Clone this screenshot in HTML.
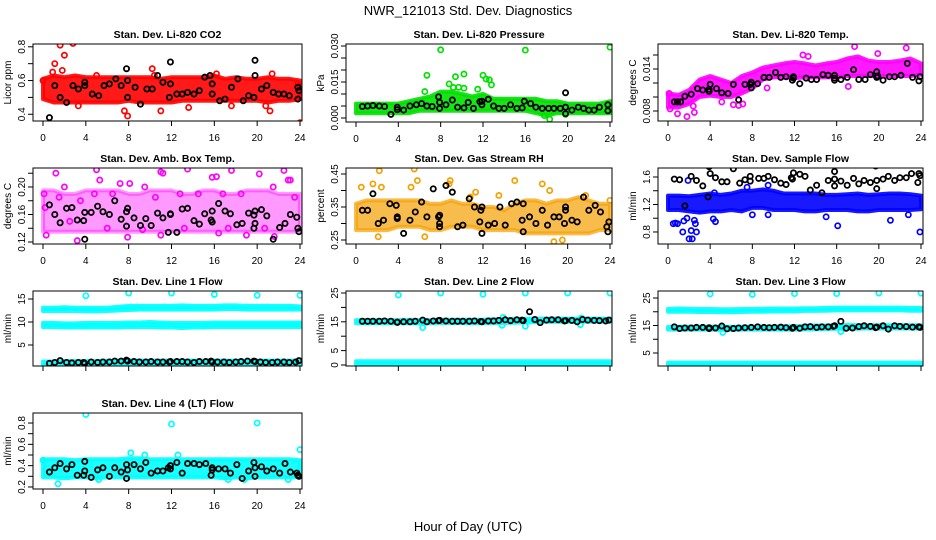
<!DOCTYPE html>
<html><head><meta charset="utf-8"><style>
body{margin:0;background:#fff}
svg{display:block;font-family:"Liberation Sans",Arial,sans-serif}
</style></head><body>
<svg id="chart" width="936" height="540" viewBox="0 0 936 540" xmlns="http://www.w3.org/2000/svg">
<rect width="936" height="540" fill="#fff"/>
<text x="468" y="15" text-anchor="middle" font-size="13">NWR_121013 Std. Dev. Diagnostics</text>
<text x="468" y="531" text-anchor="middle" font-size="13">Hour of Day (UTC)</text>
</svg>
<script>
const hourTicks=[0,4,8,12,16,20,24];
const bandHours=[0,1,2,3,4,5,6,7,8,9,10,11,12,13,14,15,16,17,18,19,20,21,22,23,24];

const co2Lo=[0.49,0.47,0.47,0.47,0.47,0.47,0.47,0.47,0.48,0.47,0.47,0.47,0.47,0.48,0.48,0.48,0.48,0.48,0.48,0.48,0.48,0.47,0.48,0.48,0.49];
const co2Hi=[0.61,0.63,0.62,0.63,0.62,0.62,0.62,0.62,0.62,0.62,0.62,0.61,0.62,0.62,0.62,0.62,0.63,0.61,0.62,0.61,0.61,0.62,0.61,0.61,0.60];
const co2Pts=[[1.6,0.81],[2.8,0.82],[2.0,0.75],[1.1,0.7],[0.9,0.65],[1.8,0.66],[10.2,0.67],[15.9,0.34],[24,0.35],[7.6,0.42],[7.9,0.39],[11,0.42],[13.6,0.44],[3.3,0.45],[21.2,0.42],[21.4,0.64],[17.6,0.45],[10.4,0.63],[5,0.63],[20.8,0.45],[16.2,0.64],[23.8,0.58],[0,0.6],[24,0.5]];
const co2Means=[[0.6,0.38],[1.1,0.57],[1.6,0.5],[2.2,0.47],[2.8,0.57],[3.3,0.55],[3.9,0.59],[3.9,0.57],[4.6,0.52],[5.2,0.51],[5.7,0.57],[6.2,0.58],[6.8,0.61],[7.3,0.57],[7.8,0.67],[7.9,0.6],[7.9,0.5],[8.6,0.56],[9.1,0.46],[9.7,0.55],[10.2,0.55],[10.7,0.63],[11.2,0.59],[11.8,0.5],[11.9,0.58],[11.9,0.71],[12.5,0.52],[13,0.52],[13.5,0.53],[14.1,0.52],[14.6,0.54],[15.1,0.62],[15.6,0.63],[15.8,0.58],[15.8,0.52],[16.5,0.48],[17,0.49],[17.6,0.56],[18.2,0.61],[18.7,0.48],[19.2,0.51],[19.7,0.5],[19.8,0.63],[19.8,0.72],[20.4,0.55],[20.9,0.57],[21.5,0.53],[22,0.52],[22.5,0.52],[23,0.51],[23.8,0.56],[23.8,0.49],[23.9,0.54]];

const presLo=[0.002,0.002,0.002,0.002,0.002,0.002,0.003,0.003,0.003,0.003,0.003,0.003,0.003,0.003,0.003,0.003,0.003,0.002,0.001,0.002,0.002,0.002,0.002,0.002,0.002];
const presHi=[0.006,0.006,0.006,0.006,0.006,0.007,0.008,0.009,0.011,0.011,0.010,0.009,0.010,0.008,0.008,0.008,0.008,0.008,0.007,0.007,0.006,0.006,0.006,0.006,0.007];
const presPts=[[8.0,0.0284],[16,0.0283],[24,0.0295],[6.7,0.0178],[9.4,0.0172],[10.2,0.0183],[12,0.0178],[12.3,0.0162],[12.6,0.0159],[12.8,0.0138],[8.8,0.0142],[9.2,0.0127],[9.7,0.0128],[10.2,0.0124],[18.3,-0.0005],[17.8,0.001],[19.8,0.0015],[6.5,0.011],[11.5,0.012]];
const presMeans=[[0.6,0.0048],[1.1,0.005],[1.6,0.0052],[2.2,0.005],[2.7,0.0048],[3.3,0.0015],[3.9,0.0045],[3.9,0.0035],[4.5,0.0033],[5.1,0.005],[5.7,0.0055],[6.2,0.006],[6.7,0.005],[7.2,0.0048],[7.8,0.0088],[7.9,0.0065],[7.9,0.004],[8.5,0.0055],[9.1,0.0075],[9.6,0.0045],[10.2,0.0042],[10.6,0.0065],[11.1,0.004],[11.7,0.0068],[11.9,0.0055],[11.9,0.007],[12.5,0.0078],[13,0.005],[13.5,0.004],[14,0.004],[14.6,0.0055],[15.2,0.004],[15.7,0.0042],[15.9,0.007],[16.5,0.006],[17,0.0045],[17.6,0.004],[18.2,0.004],[18.7,0.004],[19.3,0.004],[19.8,0.0045],[19.8,0.0018],[19.8,0.0105],[20.4,0.0033],[21,0.0045],[21.5,0.004],[22,0.0033],[22.5,0.0033],[23,0.0045],[23.8,0.0055],[23.8,0.003]];

const tempLo=[0.0085,0.0085,0.0090,0.0100,0.0102,0.0100,0.0100,0.0105,0.0112,0.0125,0.0128,0.0128,0.0127,0.0128,0.0128,0.0128,0.0128,0.0130,0.0130,0.0130,0.0130,0.0130,0.0130,0.0130,0.0132];
const tempHi=[0.0105,0.0103,0.0110,0.0125,0.0130,0.0125,0.0120,0.0130,0.0135,0.0142,0.0145,0.0148,0.0150,0.0148,0.0145,0.0148,0.0150,0.0155,0.0158,0.0152,0.0150,0.0150,0.0152,0.0155,0.0148];
const tempPts=[[0.1,0.0105],[0.2,0.0083],[0.9,0.0076],[1.8,0.0072],[2.5,0.0078],[2.4,0.0087],[6.2,0.0089],[6.7,0.0088],[5.1,0.0093],[7.1,0.0090],[9.4,0.0113],[17.1,0.0115],[22.6,0.0170],[17.7,0.0172],[19.9,0.0162],[12.8,0.016],[13.3,0.0158]];
const tempMeans=[[0.6,0.0093],[0.9,0.0093],[1.2,0.0093],[1.6,0.0101],[2.2,0.0104],[2.8,0.0112],[3.3,0.011],[3.9,0.0111],[3.9,0.0108],[4,0.0118],[4.6,0.0112],[5.1,0.0106],[5.7,0.0105],[6.2,0.0118],[6.7,0.0096],[7.3,0.0118],[7.8,0.0118],[7.9,0.0113],[7.9,0.0121],[8.5,0.0119],[9.1,0.0128],[9.6,0.0128],[10.2,0.0135],[10.7,0.0128],[11.2,0.0129],[11.8,0.0124],[11.9,0.0129],[11.9,0.0127],[12.5,0.0119],[13.1,0.0127],[13.6,0.0125],[14.1,0.0125],[14.7,0.0132],[15.2,0.0131],[15.8,0.0127],[15.8,0.0131],[15.8,0.0124],[16.4,0.0125],[17.0,0.0128],[17.6,0.0139],[18.1,0.0125],[18.7,0.0125],[19.2,0.0132],[19.8,0.0128],[19.8,0.0136],[19.9,0.013],[20.4,0.0124],[21,0.0129],[21.5,0.0129],[22.1,0.0131],[22.7,0.0148],[23.2,0.0128],[23.8,0.0123],[23.9,0.0129]];

const ambLo=[0.135,0.135,0.135,0.135,0.135,0.135,0.135,0.135,0.135,0.135,0.135,0.135,0.135,0.135,0.135,0.135,0.135,0.135,0.135,0.135,0.135,0.135,0.135,0.135,0.135];
const ambHi=[0.195,0.195,0.19,0.19,0.195,0.195,0.195,0.195,0.19,0.19,0.195,0.195,0.195,0.19,0.19,0.195,0.195,0.19,0.19,0.195,0.195,0.195,0.19,0.19,0.19];
const ambPts=[[0.1,0.19],[1.2,0.22],[2,0.2],[3.2,0.122],[5,0.225],[5.3,0.21],[7.2,0.205],[8.1,0.205],[11.0,0.222],[11.2,0.22],[13.5,0.226],[15.8,0.214],[16.2,0.215],[17.6,0.224],[20.2,0.219],[22.5,0.224],[22.9,0.21],[23.1,0.21],[19.0,0.13],[21.6,0.128],[16.4,0.133],[7.9,0.127],[0.3,0.13],[11,0.13],[0.2,0.17],[1.5,0.185],[2.5,0.15],[3.5,0.18],[4.8,0.19],[6.5,0.19],[9.5,0.2],[10.5,0.185],[12.8,0.19],[14.5,0.19],[16.8,0.19],[18.5,0.19],[21.5,0.2],[23.5,0.185],[6,0.14],[9.3,0.138],[13.2,0.14],[17.3,0.14],[20.7,0.14]];
const ambMeans=[[0.6,0.174],[1.1,0.16],[1.6,0.148],[2.2,0.169],[2.7,0.17],[3.2,0.152],[3.8,0.151],[3.9,0.124],[3.9,0.163],[4.5,0.163],[5.1,0.172],[5.6,0.164],[6.2,0.16],[6.7,0.18],[7.3,0.153],[7.8,0.143],[7.8,0.164],[7.9,0.169],[8.5,0.155],[9.1,0.144],[9.6,0.154],[10.1,0.144],[10.7,0.162],[11.2,0.155],[11.7,0.134],[11.9,0.16],[11.9,0.161],[12.5,0.134],[13.0,0.168],[13.5,0.169],[14.1,0.151],[14.6,0.146],[15.1,0.161],[15.7,0.152],[15.8,0.165],[15.8,0.149],[16.4,0.176],[17.0,0.165],[17.5,0.161],[18.1,0.145],[18.6,0.147],[19.2,0.162],[19.7,0.14],[19.7,0.159],[19.8,0.147],[19.8,0.165],[20.4,0.167],[20.9,0.158],[21.5,0.124],[22.1,0.141],[22.6,0.147],[23.1,0.16],[23.7,0.156],[23.8,0.14],[23.9,0.135]];

const rhLo=[0.28,0.28,0.28,0.28,0.29,0.29,0.29,0.28,0.28,0.29,0.29,0.29,0.28,0.28,0.28,0.28,0.27,0.27,0.27,0.27,0.27,0.27,0.27,0.28,0.28];
const rhHi=[0.36,0.37,0.37,0.37,0.37,0.37,0.37,0.36,0.36,0.37,0.36,0.36,0.35,0.35,0.34,0.36,0.37,0.37,0.36,0.37,0.37,0.38,0.37,0.36,0.36];
const rhPts=[[2.2,0.46],[5.5,0.465],[5.8,0.43],[5.2,0.41],[0.5,0.41],[1.6,0.42],[2.4,0.41],[8.8,0.42],[8.9,0.43],[15,0.43],[17.6,0.42],[18.3,0.40],[2.1,0.26],[6.5,0.26],[18.7,0.245],[19.5,0.25],[13.5,0.385],[10.8,0.38],[21.7,0.385],[11.3,0.395],[24,0.37]];
const rhMeans=[[0.6,0.34],[1.1,0.34],[1.6,0.39],[2.1,0.3],[2.6,0.31],[3.2,0.36],[3.8,0.355],[3.9,0.32],[3.9,0.315],[4.5,0.27],[5.1,0.31],[5.6,0.335],[6.2,0.365],[6.7,0.32],[7.3,0.405],[7.8,0.32],[7.9,0.325],[7.9,0.29],[7.9,0.3],[8.5,0.415],[9.1,0.395],[9.6,0.29],[10.1,0.295],[10.7,0.375],[11.2,0.35],[11.7,0.305],[11.8,0.34],[11.9,0.27],[11.9,0.35],[12.5,0.295],[13.1,0.3],[13.6,0.35],[14.1,0.295],[14.7,0.36],[15.2,0.365],[15.7,0.31],[15.8,0.275],[15.8,0.36],[16.4,0.32],[17.0,0.3],[17.6,0.34],[18.1,0.295],[18.7,0.32],[19.2,0.32],[19.7,0.3],[19.8,0.34],[19.8,0.35],[20.4,0.31],[20.9,0.305],[21.5,0.38],[22.0,0.34],[22.6,0.355],[23.1,0.335],[23.7,0.29],[23.8,0.275],[23.9,0.305]];

const flowLo=[1.12,1.12,1.1,1.08,1.1,1.1,1.12,1.1,1.15,1.15,1.12,1.12,1.12,1.1,1.1,1.12,1.12,1.12,1.1,1.1,1.12,1.12,1.12,1.12,1.13];
const flowHi=[1.33,1.33,1.32,1.34,1.36,1.34,1.36,1.4,1.4,1.42,1.4,1.36,1.36,1.36,1.36,1.34,1.34,1.35,1.36,1.34,1.35,1.36,1.36,1.35,1.33];
const flowPts=[[0.5,0.92],[0.7,0.93],[0.9,0.92],[1.4,0.8],[1.5,0.96],[1.8,1.0],[2.0,0.7],[2.3,0.7],[2.2,0.82],[2.5,0.97],[2.6,0.92],[2.7,0.8],[1.9,1.55],[4.3,0.99],[4.5,0.95],[9.5,1.05],[8.0,1.05],[16.1,0.89],[21.1,0.97],[22.8,1.05],[23.9,0.8],[15,1.02],[4.4,1.37],[7.5,1.45],[9.5,1.48]];
const flowMeans=[[0.6,1.57],[1.1,1.56],[1.6,1.18],[2.2,1.61],[2.7,1.55],[3.3,1.47],[3.8,1.31],[3.9,1.75],[4.0,1.65],[4.5,1.59],[5.1,1.53],[5.6,1.53],[6.2,1.72],[6.8,1.51],[7.3,1.56],[7.8,1.61],[7.8,1.54],[8.6,1.58],[9.1,1.58],[9.5,1.61],[10.1,1.56],[10.7,1.51],[11.2,1.49],[11.7,1.59],[11.8,1.57],[11.9,1.66],[12.5,1.64],[13.0,1.61],[13.5,1.41],[14.1,1.48],[14.6,1.37],[15.2,1.55],[15.8,1.68],[15.8,1.57],[15.8,1.47],[16.4,1.54],[17.0,1.48],[17.6,1.58],[18.1,1.5],[18.6,1.55],[19.2,1.52],[19.7,1.76],[19.8,1.55],[19.8,1.43],[20.4,1.57],[20.9,1.61],[21.5,1.55],[22,1.59],[22.6,1.59],[23.1,1.65],[23.7,1.52],[23.8,1.65],[23.9,1.62]];

const line1UpLo=[12.4,12.4,12.4,12.4,12.3,12.3,12.4,12.5,12.6,12.7,12.7,12.7,12.7,12.7,12.7,12.7,12.7,12.8,12.8,12.7,12.7,12.7,12.7,12.7,12.7];
const line1UpHi=[13.1,13.1,13.2,13.1,13.1,13.1,13.1,13.3,13.5,13.5,13.5,13.5,13.5,13.6,13.5,13.5,13.5,13.6,13.6,13.5,13.5,13.5,13.5,13.5,13.4];
const line1MidLo=[8.9,8.9,8.8,8.8,8.8,8.8,8.8,8.8,8.9,8.9,8.9,8.8,8.8,8.7,8.8,8.8,8.9,8.9,8.9,8.9,8.9,8.9,8.9,8.9,8.9];
const line1MidHi=[9.8,9.8,9.7,9.7,9.8,9.8,9.8,9.8,9.9,9.9,10.0,9.9,9.8,9.8,9.8,9.8,9.9,9.9,9.9,9.9,9.9,9.9,9.9,9.9,9.9];
const line1LowLo=[0.7,0.7,0.7,0.7,0.7,0.7,0.7,0.7,0.7,0.7,0.7,0.7,0.7,0.7,0.7,0.7,0.7,0.7,0.7,0.7,0.7,0.7,0.7,0.7,0.7];
const line1LowHi=[1.4,1.4,1.5,1.5,1.5,1.5,1.6,1.6,1.7,1.6,1.6,1.6,1.6,1.6,1.6,1.6,1.6,1.6,1.6,1.6,1.6,1.6,1.6,1.6,1.6];
const line1Pts=[[4,15.7],[8,16.3],[12,16.3],[16,16],[20,15.8],[24,15.8]];
const line1Means=[[0.6,1.0],[1.1,1.2],[1.6,1.6],[2.2,1.2],[2.7,1.1],[3.3,1.2],[3.8,1.2],[3.9,1.0],[4.5,1.3],[5.1,1.2],[5.6,1.3],[6.2,1.3],[6.7,1.5],[7.3,1.5],[7.8,1.7],[7.9,1.5],[8.5,1.4],[9.0,1.3],[9.6,1.3],[10.1,1.4],[10.7,1.3],[11.2,1.3],[11.8,1.3],[11.9,1.4],[12.5,1.4],[13,1.4],[13.5,1.3],[14.1,1.2],[14.6,1.4],[15.2,1.4],[15.7,1.5],[15.8,1.3],[16.3,1.3],[16.9,1.3],[17.4,1.2],[18,1.3],[18.5,1.4],[19.1,1.5],[19.7,1.5],[19.8,1.4],[20.3,1.3],[20.8,1.2],[21.4,1.2],[21.9,1.3],[22.5,1.3],[23,1.2],[23.6,1.3],[23.9,1.6]];

const line2UpLo=[14.5,14.5,14.5,14.5,14.5,14.5,14.4,14.5,14.6,14.6,14.6,14.5,14.5,14.6,14.6,14.7,14.8,14.9,15.0,15.0,15.0,15.0,15.0,15.0,15.0];
const line2UpHi=[15.6,15.6,15.6,15.6,15.6,15.7,15.6,15.6,15.7,15.7,15.7,15.7,15.7,15.9,15.9,16.0,16.0,16.1,16.1,16.1,16.1,16.1,16.1,16.1,16.1];
const line2LowLo=[0.2,0.2,0.2,0.2,0.2,0.2,0.2,0.2,0.2,0.2,0.2,0.2,0.2,0.2,0.2,0.2,0.2,0.2,0.2,0.2,0.2,0.2,0.2,0.2,0.2];
const line2LowHi=[1.3,1.3,1.3,1.3,1.3,1.3,1.3,1.3,1.3,1.3,1.3,1.3,1.3,1.3,1.3,1.3,1.3,1.3,1.3,1.3,1.3,1.3,1.3,1.3,1.3];
const line2Pts=[[4,24.3],[8,25],[12,24.6],[16,25],[20,25],[24,25],[6.3,13],[13.8,13.8],[13.9,16.5],[16,13.5],[21.2,14],[21.3,16.3]];
const line2Means=[[0.6,15.2],[1.1,15.2],[1.6,15.2],[2.2,15.2],[2.7,15.3],[3.3,15.2],[3.9,14.9],[3.9,14.8],[4.5,15.0],[5.1,15.0],[5.6,15.2],[6.3,15.6],[6.7,15.0],[7.3,15.3],[7.8,15.4],[7.9,15.5],[8.5,15.3],[9.1,15.2],[9.6,15.2],[10.1,15.2],[10.7,15.2],[11.2,15.3],[11.8,15.1],[11.9,15.0],[12.5,15.3],[13,15.3],[13.5,15.5],[14.1,15.7],[14.6,15.4],[15.2,15.7],[15.7,15.6],[15.8,15.4],[16.4,18.5],[16.9,15.8],[17.4,14.7],[18,15.6],[18.5,15.7],[19.1,15.7],[19.7,15.3],[19.8,15.4],[20.4,15.5],[20.9,15.0],[21.4,15.8],[21.9,15.6],[22.5,15.5],[23,15.4],[23.6,15.3],[23.9,15.6]];

const line3UpLo=[20.0,20.0,20.0,19.9,19.9,19.8,19.8,19.9,20.0,20.0,20.1,20.1,20.1,20.3,20.3,20.4,20.5,20.5,20.5,20.5,20.5,20.5,20.5,20.4,20.4];
const line3UpHi=[21.0,21.2,21.1,21.0,21.0,20.9,20.9,21.0,21.0,21.1,21.2,21.2,21.2,21.3,21.3,21.4,21.5,21.5,21.5,21.5,21.5,21.5,21.5,21.4,21.4];
const line3MidLo=[13.5,13.5,13.5,13.5,13.5,13.4,13.4,13.5,13.5,13.5,13.5,13.5,13.5,13.6,13.6,13.7,13.8,13.8,13.8,13.9,13.9,13.9,13.9,13.9,13.9];
const line3MidHi=[14.5,14.6,14.6,14.6,14.6,14.6,14.5,14.6,14.6,14.6,14.6,14.7,14.7,14.9,15.0,15.0,15.1,15.2,15.1,15.1,15.1,15.1,15.1,15.1,15.1];
const line3LowLo=[0.6,0.6,0.6,0.6,0.6,0.6,0.6,0.6,0.6,0.6,0.6,0.6,0.6,0.6,0.6,0.6,0.6,0.6,0.6,0.6,0.6,0.6,0.6,0.6,0.6];
const line3LowHi=[1.5,1.5,1.5,1.5,1.5,1.5,1.5,1.5,1.5,1.5,1.5,1.5,1.5,1.5,1.5,1.5,1.5,1.5,1.5,1.5,1.5,1.5,1.5,1.5,1.5];
const line3Pts=[[4,26.5],[8,26.3],[12,26.6],[16,26.6],[20,26.8],[24,26.8],[5.2,12.5],[16.4,12.8]];
const line3Means=[[0.6,14.5],[1.1,13.9],[1.6,14.1],[2.2,14.1],[2.7,14.3],[3.3,14.3],[3.9,13.9],[3.9,14.2],[4.5,14.1],[5.1,14.8],[5.6,13.8],[6.2,13.9],[6.7,14.1],[7.3,14.2],[7.9,14.3],[8.5,14.5],[9.1,14.3],[9.6,14.2],[10.1,14.3],[10.7,14.4],[11.2,14.2],[11.8,14.0],[11.9,14.3],[12.5,14.0],[13,14.5],[13.5,14.6],[14.1,14.3],[14.6,14.5],[15.2,14.5],[15.7,14.7],[15.8,14.9],[16.4,16.5],[16.9,14.0],[17.5,14.1],[18.1,14.6],[18.6,14.9],[19.2,14.7],[19.7,14.2],[19.8,14.4],[20.4,14.9],[20.9,13.7],[21.5,14.9],[22,14.7],[22.6,14.6],[23.2,14.4],[23.8,14.5],[23.9,14.3]];

const line4Lo=[0.29,0.29,0.28,0.29,0.29,0.28,0.29,0.29,0.29,0.29,0.29,0.29,0.29,0.29,0.29,0.29,0.29,0.28,0.29,0.28,0.29,0.29,0.29,0.29,0.29];
const line4Hi=[0.46,0.46,0.46,0.45,0.46,0.46,0.46,0.46,0.47,0.47,0.46,0.46,0.46,0.46,0.46,0.46,0.46,0.46,0.46,0.46,0.46,0.46,0.46,0.46,0.45];
const line4Pts=[[4,0.88],[12,0.79],[20,0.8],[24,0.55],[1.4,0.23],[8.2,0.52],[9.5,0.5],[12.6,0.5],[0,0.45],[5.2,0.27],[17.3,0.27],[18.8,0.27],[22.9,0.27]];
const line4Means=[[0.6,0.34],[1.1,0.38],[1.6,0.42],[2.2,0.37],[2.7,0.41],[3.2,0.31],[3.8,0.31],[3.9,0.44],[3.9,0.35],[4.5,0.29],[5.1,0.36],[5.6,0.38],[6.2,0.3],[6.7,0.38],[7.3,0.34],[7.8,0.28],[7.8,0.41],[7.9,0.36],[8.5,0.41],[9.1,0.37],[9.6,0.43],[10.1,0.33],[10.7,0.35],[11.2,0.35],[11.7,0.38],[11.9,0.4],[11.9,0.37],[12.5,0.43],[13,0.33],[13.5,0.42],[14.1,0.42],[14.6,0.41],[15.2,0.42],[15.7,0.31],[15.8,0.38],[15.8,0.36],[16.4,0.37],[17,0.37],[17.5,0.33],[18.1,0.41],[18.6,0.28],[19.2,0.35],[19.7,0.43],[19.8,0.38],[19.8,0.3],[20.4,0.39],[20.9,0.35],[21.5,0.37],[22.1,0.33],[22.6,0.42],[23.1,0.34],[23.7,0.33],[23.8,0.31],[23.9,0.3]];

const yTicksCo2=[0.4,0.5,0.6,0.7,0.8], yLabCo2=["0.4","0.6","0.8"];
const yTicksPres=[0,0.005,0.01,0.015,0.02,0.025,0.03], yLabPres=["0.000","0.015","0.030"];
const yTicksTemp=[0.008,0.010,0.012,0.014,0.016], yLabTemp=["0.008","0.014"];
const yTicksAmb=[0.12,0.14,0.16,0.18,0.20,0.22], yLabAmb=["0.12","0.16","0.20"];
const yTicksRh=[0.25,0.30,0.35,0.40,0.45], yLabRh=["0.25","0.35","0.45"];
const yTicksFlow=[0.8,1.0,1.2,1.4,1.6], yLabFlow=["0.8","1.2","1.6"];
const yTicksL1=[5,10,15], yLabL1=["5","10","15"];
const yTicksL2=[0,5,10,15,20,25], yLabL2=["0","5","15","25"];
const yTicksL3=[5,10,15,20,25], yLabL3=["5","15","25"];
const yTicksL4=[0.2,0.3,0.4,0.5,0.6,0.7,0.8], yLabL4=["0.2","0.4","0.6","0.8"];

const svg=document.getElementById('chart');
const NS='http://www.w3.org/2000/svg';
function mk(tag,attrs,parent){const e=document.createElementNS(NS,tag);for(const k in attrs)e.setAttribute(k,attrs[k]);parent.appendChild(e);return e;}

const panels=[
 {name:'co2',title:'Stan. Dev. Li-820 CO2',yl:'Licor ppm',L:33,T:44,W:269,H:77,ymin:0.36,ymax:0.8167,col:'#ff0000',bands:[[co2Lo,co2Hi]],pts:co2Pts,means:co2Means,yt:yTicksCo2,ylab:yLabCo2,xl:true},
 {name:'pressure',title:'Stan. Dev. Li-820 Pressure',yl:'kPa',L:346,T:44,W:266,H:78,ymin:-0.00167,ymax:0.03083,col:'#00e000',bands:[[presLo,presHi]],pts:presPts,means:presMeans,yt:yTicksPres,ylab:yLabPres,xl:true},
 {name:'temp',title:'Stan. Dev. Li-820 Temp.',yl:'degrees C',L:658,T:44,W:265,H:77,ymin:0.00657,ymax:0.01757,col:'#ff00ff',bands:[[tempLo,tempHi]],pts:tempPts,means:tempMeans,yt:yTicksTemp,ylab:yLabTemp,xl:true},
 {name:'amb-box-temp',title:'Stan. Dev. Amb. Box Temp.',yl:'degrees C',L:33,T:168,W:269,H:76,ymin:0.1171,ymax:0.2276,col:'#ff00ff',bands:[[ambLo,ambHi]],op:0.4,pts:ambPts,means:ambMeans,yt:yTicksAmb,ylab:yLabAmb,xl:true},
 {name:'gas-rh',title:'Stan. Dev. Gas Stream RH',yl:'percent',L:346,T:168,W:266,H:76,ymin:0.2379,ymax:0.4682,col:'#f5a000',bands:[[rhLo,rhHi]],op:0.7,pts:rhPts,means:rhMeans,yt:yTicksRh,ylab:yLabRh,xl:true},
 {name:'sample-flow',title:'Stan. Dev. Sample Flow',yl:'ml/min',L:658,T:168,W:265,H:76,ymin:0.625,ymax:1.731,col:'#0000ff',bands:[[flowLo,flowHi]],pts:flowPts,means:flowMeans,yt:yTicksFlow,ylab:yLabFlow,xl:true},
 {name:'line1-flow',title:'Stan. Dev. Line 1 Flow',yl:'ml/min',L:33,T:291,W:269,H:75,ymin:0.43,ymax:16.74,col:'#00ffff',bands:[[line1UpLo,line1UpHi],[line1MidLo,line1MidHi],[line1LowLo,line1LowHi]],pts:line1Pts,means:line1Means,yt:yTicksL1,ylab:yLabL1,xl:false},
 {name:'line2-flow',title:'Stan. Dev. Line 2 Flow',yl:'ml/min',L:346,T:291,W:266,H:75,ymin:-0.35,ymax:25.7,col:'#00ffff',bands:[[line2UpLo,line2UpHi],[line2LowLo,line2LowHi]],pts:line2Pts,means:line2Means,yt:yTicksL2,ylab:yLabL2,xl:false},
 {name:'line3-flow',title:'Stan. Dev. Line 3 Flow',yl:'ml/min',L:658,T:291,W:265,H:75,ymin:0.27,ymax:27.55,col:'#00ffff',bands:[[line3UpLo,line3UpHi],[line3MidLo,line3MidHi],[line3LowLo,line3LowHi]],pts:line3Pts,means:line3Means,yt:yTicksL3,ylab:yLabL3,xl:false},
 {name:'line4-flow',title:'Stan. Dev. Line 4 (LT) Flow',yl:'ml/min',L:33,T:413,W:269,H:76,ymin:0.181,ymax:0.894,col:'#00ffff',bands:[[line4Lo,line4Hi]],pts:line4Pts,means:line4Means,yt:yTicksL4,ylab:yLabL4,xl:true}
];

panels.forEach(p=>{
 const g=mk('g',{},svg);
 
 
 const X=h=>p.L+10+h/24*(p.W-12);
 const Y=v=>p.T+p.H-(v-p.ymin)/(p.ymax-p.ymin)*p.H;
 const clip='c-'+p.name;
 const cp=mk('clipPath',{id:clip},g);
 mk('rect',{x:p.L,y:p.T,width:p.W,height:p.H},cp);
 const data=mk('g',{'clip-path':'url(#'+clip+')'},g);
 p.bands.forEach(b=>{
  let d='';
  bandHours.forEach((h,i)=>{d+=(i?'L':'M')+X(h).toFixed(1)+','+Y(b[1][i]).toFixed(1);});
  for(let i=bandHours.length-1;i>=0;i--)d+='L'+X(bandHours[i]).toFixed(1)+','+Y(b[0][i]).toFixed(1);
  const band=mk('path',{d:d+'Z',fill:p.col,'fill-opacity':p.op||0.9,stroke:p.col,'stroke-width':4,'stroke-linejoin':'round','stroke-opacity':p.op||0.9},data);
  
  
 });
 p.pts.forEach(pt=>{
  const c=mk('circle',{cx:X(pt[0]),cy:Y(pt[1]),r:2.6,fill:'none',stroke:p.col,'stroke-width':1.7},data);
  
  
 });
 p.means.forEach(pt=>{
  const c=mk('circle',{cx:X(pt[0]),cy:Y(pt[1]),r:2.6,fill:'none',stroke:'#000','stroke-width':1.8},data);
  
  
 });
 const box=mk('rect',{x:p.L,y:p.T,width:p.W,height:p.H,fill:'none',stroke:'#000','stroke-width':1},g);
 
 
 const t=mk('text',{x:p.L+p.W/2,y:p.T-6,'text-anchor':'middle','font-size':10.5,'font-weight':'bold'},g);
 t.textContent=p.title;
 
 
 const yb=p.T+p.H;
 hourTicks.forEach(h=>{
  mk('line',{x1:X(h),x2:X(h),y1:yb,y2:yb+5,stroke:'#000'},g);
  if(p.xl){const tl=mk('text',{x:X(h),y:yb+20,'text-anchor':'middle','font-size':10},g);tl.textContent=h;
   
   }
 });
 const xa=p.L;
 p.yt.forEach(v=>{mk('line',{x1:xa-5,x2:xa,y1:Y(v),y2:Y(v),stroke:'#000'},g);});
 p.ylab.forEach(s=>{
  const v=parseFloat(s);const yy=Y(v);
  const tl=mk('text',{x:0,y:0,transform:'translate('+(p.L-8)+','+yy+') rotate(-90)','text-anchor':'middle','font-size':10},g);
  tl.textContent=s;
  
  
 });
 const at=mk('text',{transform:'translate('+(p.L-22)+','+(p.T+p.H/2)+') rotate(-90)','text-anchor':'middle','font-size':10},g);
 at.textContent=p.yl;
 
 
});
</script>
</body></html>
